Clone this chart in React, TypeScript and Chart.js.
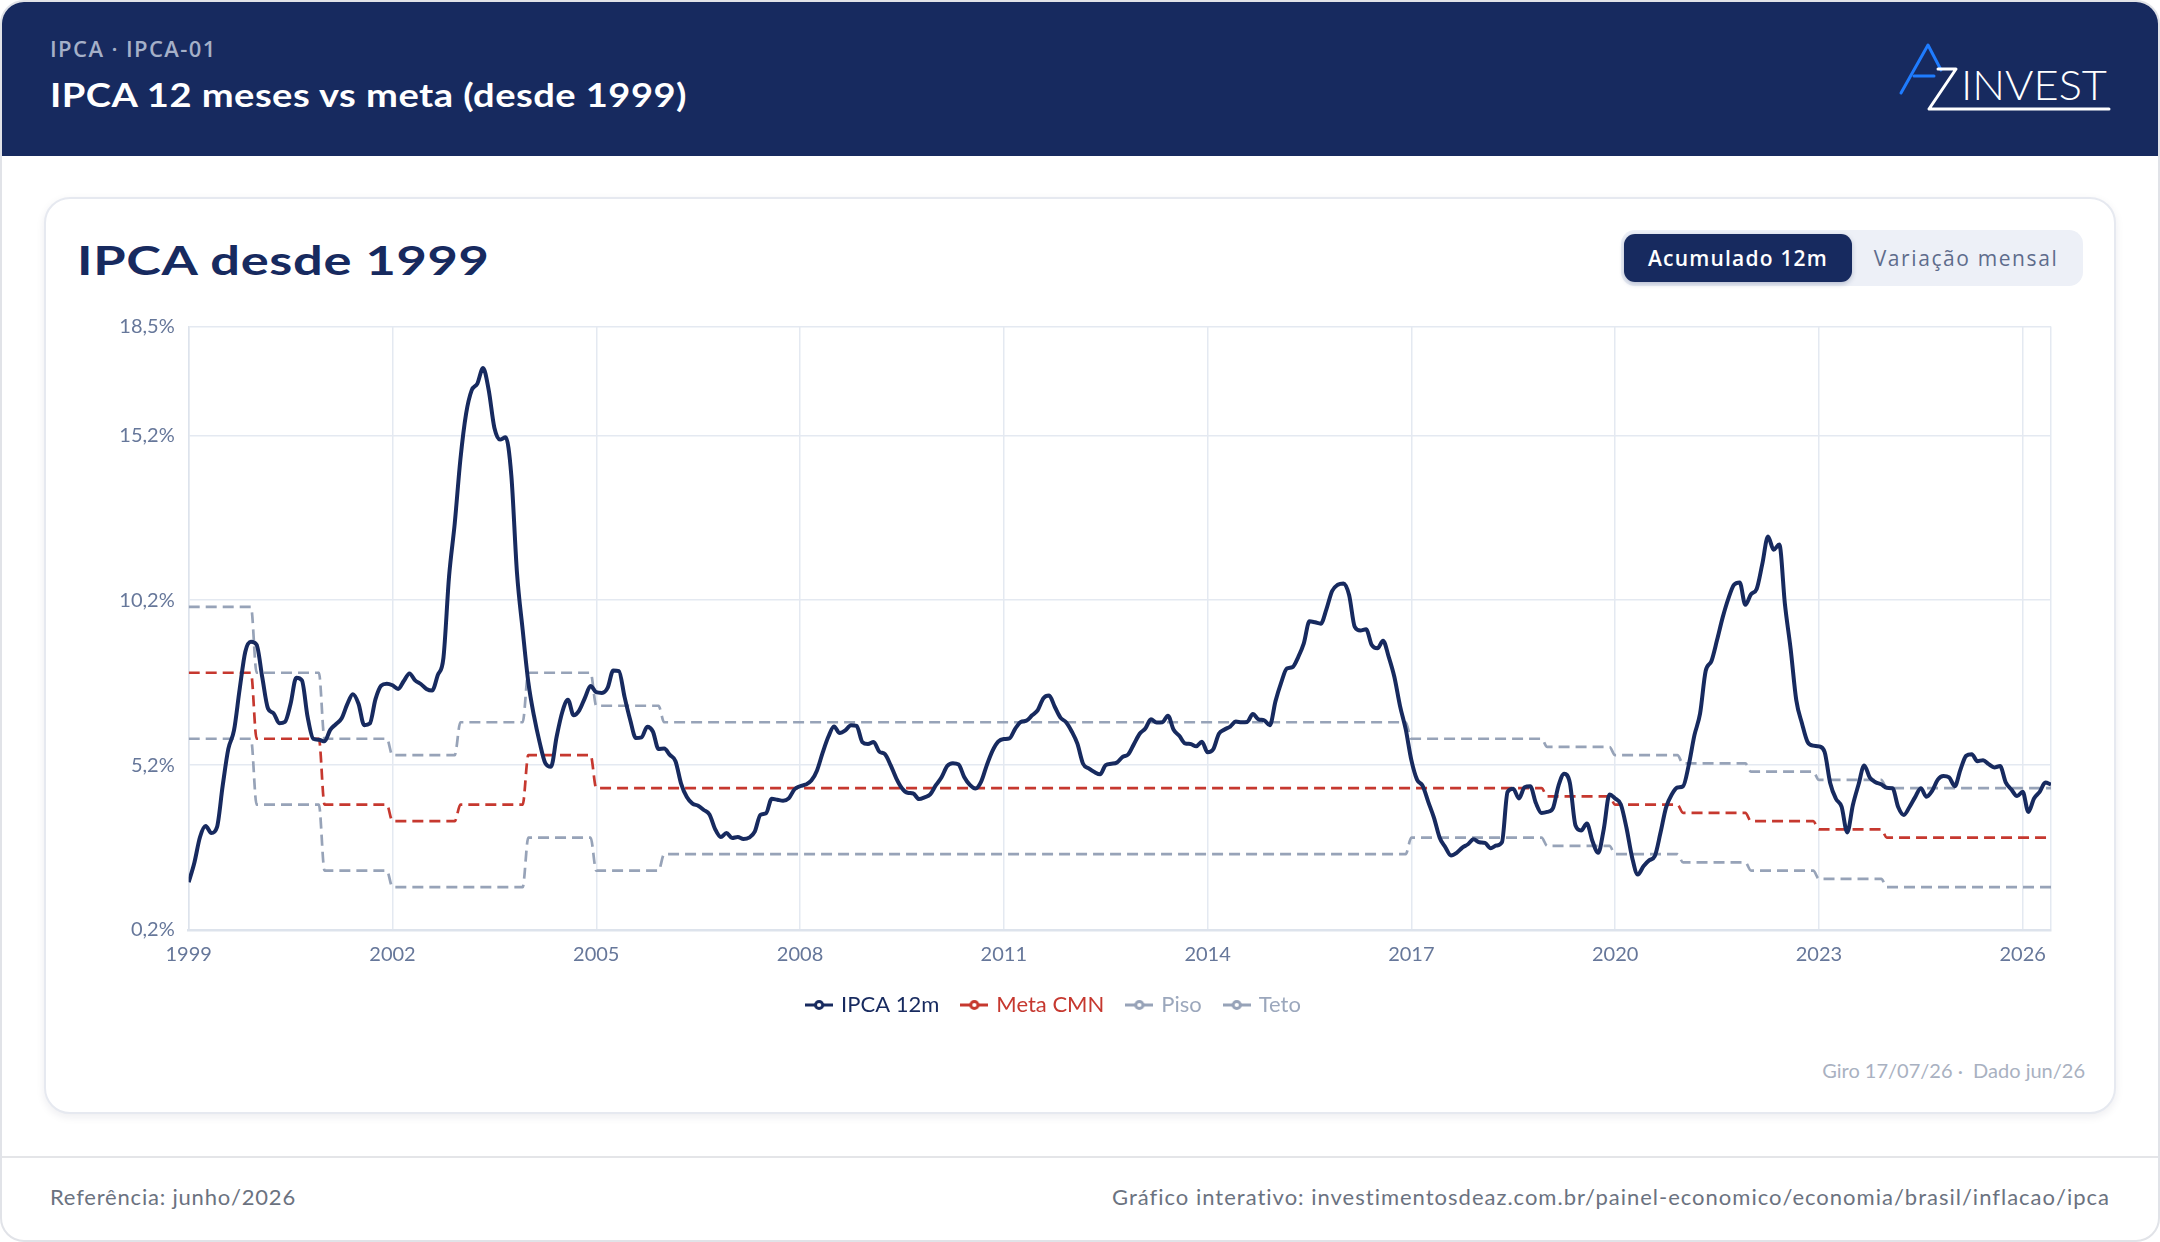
import { useEffect, useRef } from "react";
import { Chart, registerables } from "chart.js";

Chart.register(...registerables);

// Série mensal do IPCA acumulado em 12 meses (%), de jan/1999 a jun/2026
const START_YEAR = 1999;
const IPCA_12M: number[] = [
  // 1999
  1.65, 2.24, 3.02, 3.35, 3.14, 3.32, 4.57, 5.69, 6.25, 7.5, 8.64, 8.94,
  // 2000
  8.85, 7.86, 6.92, 6.77, 6.47, 6.51, 7.06, 7.85, 7.77, 6.67, 6.0, 5.97,
  // 2001
  5.92, 6.27, 6.44, 6.61, 7.04, 7.35, 7.06, 6.41, 6.46, 7.2, 7.61, 7.67,
  // 2002
  7.62, 7.51, 7.75, 7.98, 7.77, 7.66, 7.51, 7.46, 7.93, 8.45, 10.93, 12.53,
  // 2003
  14.47, 15.85, 16.57, 16.77, 17.24, 16.57, 15.43, 15.07, 15.14, 13.98, 11.02, 9.3,
  // 2004
  7.71, 6.69, 5.89, 5.26, 5.15, 6.06, 6.81, 7.18, 6.71, 6.86, 7.24, 7.6,
  // 2005
  7.41, 7.39, 7.54, 8.07, 8.05, 7.27, 6.57, 6.02, 6.04, 6.36, 6.22, 5.69,
  // 2006
  5.7, 5.51, 5.32, 4.63, 4.23, 4.03, 3.97, 3.84, 3.7, 3.26, 3.02, 3.14,
  // 2007
  2.99, 3.02, 2.96, 3.0, 3.18, 3.69, 3.74, 4.18, 4.15, 4.12, 4.19, 4.46,
  // 2008
  4.56, 4.61, 4.73, 5.04, 5.58, 6.06, 6.37, 6.17, 6.25, 6.41, 6.39, 5.9,
  // 2009
  5.84, 5.9, 5.61, 5.53, 5.2, 4.8, 4.5, 4.36, 4.34, 4.17, 4.22, 4.31,
  // 2010
  4.59, 4.83, 5.17, 5.26, 5.22, 4.84, 4.6, 4.49, 4.7, 5.2, 5.63, 5.91,
  // 2011
  5.99, 6.01, 6.3, 6.51, 6.55, 6.71, 6.87, 7.23, 7.31, 6.97, 6.64, 6.5,
  // 2012
  6.22, 5.85, 5.24, 5.1, 4.99, 4.92, 5.2, 5.24, 5.28, 5.45, 5.53, 5.84,
  // 2013
  6.15, 6.31, 6.59, 6.49, 6.5, 6.7, 6.27, 6.09, 5.86, 5.84, 5.77, 5.91,
  // 2014
  5.59, 5.68, 6.15, 6.28, 6.37, 6.52, 6.5, 6.51, 6.75, 6.59, 6.56, 6.41,
  // 2015
  7.14, 7.7, 8.13, 8.17, 8.47, 8.89, 9.56, 9.53, 9.49, 9.93, 10.48, 10.67,
  // 2016
  10.71, 10.36, 9.39, 9.28, 9.32, 8.84, 8.74, 8.97, 8.48, 7.87, 6.99, 6.29,
  // 2017
  5.35, 4.76, 4.57, 4.08, 3.6, 3.0, 2.71, 2.46, 2.54, 2.7, 2.8, 2.95,
  // 2018
  2.86, 2.84, 2.68, 2.76, 2.86, 4.39, 4.48, 4.19, 4.53, 4.56, 4.05, 3.75,
  // 2019
  3.78, 3.89, 4.58, 4.94, 4.66, 3.37, 3.22, 3.43, 2.89, 2.54, 3.27, 4.31,
  // 2020
  4.19, 4.01, 3.3, 2.4, 1.88, 2.13, 2.31, 2.44, 3.14, 3.92, 4.31, 4.52,
  // 2021
  4.56, 5.2, 6.1, 6.76, 8.06, 8.35, 8.99, 9.68, 10.25, 10.67, 10.74, 10.06,
  // 2022
  10.38, 10.54, 11.3, 12.13, 11.73, 11.89, 10.07, 8.73, 7.17, 6.47, 5.9, 5.79,
  // 2023
  5.77, 5.6, 4.65, 4.18, 3.94, 3.16, 3.99, 4.61, 5.19, 4.82, 4.68, 4.62,
  // 2024
  4.51, 4.5, 3.93, 3.69, 3.93, 4.23, 4.5, 4.24, 4.42, 4.76, 4.87, 4.83,
  // 2025
  4.56, 5.06, 5.48, 5.53, 5.32, 5.35, 5.23, 5.13, 5.17, 4.68, 4.46, 4.26,
  // 2026
  4.39, 3.78, 4.19, 4.39, 4.67, 4.61,
];

// Metas do CMN por ano-calendário (1999 a 2026), centro e limites do intervalo de tolerância
const META_ANUAL: number[] = [
  8, 6, 4, 3.5, 4, 5.5, 4.5, 4.5, 4.5, 4.5, 4.5, 4.5, 4.5, 4.5,
  4.5, 4.5, 4.5, 4.5, 4.5, 4.5, 4.25, 4, 3.75, 3.5, 3.25, 3, 3, 3,
];
const PISO_ANUAL: number[] = [
  6, 4, 2, 1.5, 1.5, 3, 2, 2.5, 2.5, 2.5, 2.5, 2.5, 2.5, 2.5,
  2.5, 2.5, 2.5, 2.5, 3, 3, 2.75, 2.5, 2.25, 2, 1.75, 1.5, 1.5, 1.5,
];
const TETO_ANUAL: number[] = [
  10, 8, 6, 5.5, 6.5, 8, 7, 6.5, 6.5, 6.5, 6.5, 6.5, 6.5, 6.5,
  6.5, 6.5, 6.5, 6.5, 6, 6, 5.75, 5.5, 5.25, 5, 4.75, 4.5, 4.5, 4.5,
];

const SERIES_LABELS = ["IPCA 12m", "Meta CMN", "Piso", "Teto"];
const X_TICK_YEARS = [1999, 2002, 2005, 2008, 2011, 2014, 2017, 2020, 2023, 2026];
const Y_TICKS = [0.2, 5.2, 10.2, 15.2, 18.5];

const NAVY = "#172a5f";
const RED = "#c6382f";
const SLATE = "#97a3b8";
const GRID = "#e4e9f1";
const TICK = "#66779a";

const X_MIN = START_YEAR;
const X_MAX = START_YEAR + (IPCA_12M.length - 1) / 12;

const monthX = (i: number) => START_YEAR + i / 12;

function legendIcon(color: string): HTMLCanvasElement {
  const c = document.createElement("canvas");
  c.width = 28;
  c.height = 14;
  const g = c.getContext("2d")!;
  g.strokeStyle = color;
  g.lineWidth = 3;
  g.beginPath();
  g.moveTo(0, 7);
  g.lineTo(28, 7);
  g.stroke();
  g.beginPath();
  g.arc(14, 7, 3.6, 0, Math.PI * 2);
  g.fillStyle = "#ffffff";
  g.fill();
  g.stroke();
  return c;
}

function IpcaChart() {
  const ref = useRef<HTMLCanvasElement>(null);

  useEffect(() => {
    const canvas = ref.current;
    if (!canvas) return;

    const ipcaPoints = IPCA_12M.map((y, i) => ({ x: monthX(i), y }));
    const stepPoints = (byYear: number[]) =>
      IPCA_12M.map((_, i) => ({ x: monthX(i), y: byYear[Math.floor(i / 12)] }));

    const colors = [NAVY, RED, SLATE, SLATE];
    const textColors = [NAVY, RED, "#9ba7bc", "#9ba7bc"];
    const icons = colors.map(legendIcon);

    const dashed = {
      borderWidth: 2.7,
      borderDash: [11, 6],
      pointRadius: 0,
      fill: false,
      cubicInterpolationMode: "monotone" as const,
    };

    const chart = new Chart(canvas, {
      type: "line",
      data: {
        datasets: [
          {
            label: SERIES_LABELS[0],
            data: ipcaPoints,
            borderColor: NAVY,
            backgroundColor: NAVY,
            borderWidth: 4,
            pointRadius: 0,
            fill: false,
            cubicInterpolationMode: "monotone",
          },
          { label: SERIES_LABELS[1], data: stepPoints(META_ANUAL), borderColor: RED, backgroundColor: RED, ...dashed },
          { label: SERIES_LABELS[2], data: stepPoints(PISO_ANUAL), borderColor: SLATE, backgroundColor: SLATE, ...dashed },
          { label: SERIES_LABELS[3], data: stepPoints(TETO_ANUAL), borderColor: SLATE, backgroundColor: SLATE, ...dashed },
        ],
      },
      options: {
        responsive: false,
        animation: false,
        devicePixelRatio: 1,
        layout: { padding: { top: 26.5, right: 10, left: 10, bottom: 1 } },
        scales: {
          x: {
            type: "linear",
            min: X_MIN,
            max: X_MAX,
            afterBuildTicks: (axis: any) => {
              axis.ticks = X_TICK_YEARS.map((v) => ({ value: v })).concat([{ value: X_MAX }]);
            },
            afterFit: (axis: any) => {
              axis.height -= 10;
              axis.paddingRight = 0;
            },
            grid: { color: GRID, lineWidth: 1.5, drawTicks: false },
            border: { color: "#dde3ec", width: 2.5 },
            ticks: {
              autoSkip: false,
              maxRotation: 0,
              padding: 13,
              color: TICK,
              font: { family: "Lato", size: 20 },
              callback: (v: any) => (X_TICK_YEARS.includes(Number(v)) ? String(v) : ""),
            },
          },
          y: {
            min: Y_TICKS[0],
            max: Y_TICKS[Y_TICKS.length - 1],
            afterBuildTicks: (axis: any) => {
              axis.ticks = Y_TICKS.map((v) => ({ value: v }));
            },
            afterFit: (axis: any) => {
              axis.width = 130.7;
            },
            grid: { color: GRID, lineWidth: 1.5, drawTicks: false },
            border: { color: "#dde3ec", width: 1.5 },
            ticks: {
              padding: 14,
              color: TICK,
              font: { family: "Lato", size: 20 },
              callback: (v: any) => Number(v).toFixed(1).replace(".", ",") + "%",
            },
          },
        },
        plugins: {
          tooltip: { enabled: false },
          legend: {
            position: "bottom",
            labels: {
              usePointStyle: true,
              pointStyleWidth: 22,
              padding: 24,
              font: { family: "Lato", size: 22 },
              generateLabels: (c: any) =>
                c.data.datasets.map((ds: any, i: number) => ({
                  text: ds.label,
                  fillStyle: colors[i],
                  strokeStyle: colors[i],
                  lineWidth: 0,
                  pointStyle: icons[i],
                  fontColor: textColors[i],
                  hidden: false,
                  datasetIndex: i,
                })),
            },
          },
        },
      },
    } as any);

    return () => chart.destroy();
  }, []);

  return (
    <canvas
      ref={ref}
      width={2013}
      height={727}
      style={{ position: "absolute", left: 48, top: 300, width: 2013, height: 727 }}
    />
  );
}

function Logo() {
  return (
    <svg
      width={230}
      height={84}
      viewBox="0 0 230 84"
      style={{ position: "absolute", left: 1890, top: 36 }}
    >
      <polyline points="11,57 38,9 51,34" fill="none" stroke="#1f7cff" strokeWidth={3} strokeLinecap="round" strokeLinejoin="round" />
      <line x1={24} y1={40} x2={44} y2={40} stroke="#1f7cff" strokeWidth={3} strokeLinecap="round" />
      <polyline points="48,33 66,33 39,73 219,73" fill="none" stroke="#ffffff" strokeWidth={3} strokeLinecap="round" strokeLinejoin="round" />
      <text x={71} y={64} fill="#ffffff" fontFamily="Lato" fontWeight={300} fontSize={42} textLength={146} lengthAdjust="spacingAndGlyphs">
        INVEST
      </text>
    </svg>
  );
}

export default function App() {
  useEffect(() => {
    document.body.style.margin = "0";
  }, []);

  return (
    <div
      style={{
        position: "relative",
        width: 2160,
        height: 1242,
        overflow: "hidden",
        background: "#ffffff",
        fontFamily: "Lato, sans-serif",
      }}
    >
      {/* moldura da página */}
      <div
        style={{
          position: "absolute",
          left: 0,
          top: 0,
          width: 2160,
          height: 1242,
          boxSizing: "border-box",
          border: "2px solid #e1e3e8",
          borderRadius: 24,
        }}
      />

      {/* cabeçalho */}
      <div
        style={{
          position: "absolute",
          left: 2,
          top: 2,
          width: 2156,
          height: 154,
          background: NAVY,
          borderTopLeftRadius: 22,
          borderTopRightRadius: 22,
        }}
      />
      <div
        style={{
          position: "absolute",
          left: 50,
          top: 36,
          lineHeight: "24px",
          fontFamily: "'Open Sans', sans-serif",
          fontWeight: 600,
          fontSize: 22,
          letterSpacing: 1.4,
          color: "#a5b0c8",
          whiteSpace: "pre",
        }}
      >
        IPCA · IPCA-01
      </div>
      <div
        style={{
          position: "absolute",
          left: 50,
          top: 75,
          lineHeight: "40px",
          fontWeight: 700,
          fontSize: 32,
          letterSpacing: 0.4,
          color: "#ffffff",
          whiteSpace: "pre",
          transform: "scaleX(1.19)",
          transformOrigin: "left center",
        }}
      >
        IPCA 12 meses vs meta (desde 1999)
      </div>
      <Logo />

      {/* cartão do gráfico */}
      <div
        style={{
          position: "absolute",
          left: 44,
          top: 197,
          width: 2072,
          height: 917,
          boxSizing: "border-box",
          border: "2px solid #e6e9f0",
          borderRadius: 26,
          background: "#ffffff",
          boxShadow: "0 3px 8px rgba(20, 30, 60, 0.08)",
        }}
      />
      <div
        style={{
          position: "absolute",
          left: 77,
          top: 236,
          lineHeight: "48px",
          fontWeight: 700,
          fontSize: 40,
          letterSpacing: 0.5,
          color: NAVY,
          whiteSpace: "pre",
          transform: "scaleX(1.31)",
          transformOrigin: "left center",
        }}
      >
        IPCA desde 1999
      </div>

      {/* seletor de visualização */}
      <div
        style={{
          position: "absolute",
          left: 1621,
          top: 230,
          width: 462,
          height: 56,
          borderRadius: 14,
          background: "#edf0f7",
        }}
      />
      <div
        style={{
          position: "absolute",
          left: 1624,
          top: 234,
          width: 228,
          height: 48,
          borderRadius: 11,
          background: NAVY,
          boxShadow: "0 2px 5px rgba(23, 42, 95, 0.25)",
          color: "#ffffff",
          display: "flex",
          alignItems: "center",
          justifyContent: "center",
          fontFamily: "'Open Sans', sans-serif",
          fontWeight: 600,
          fontSize: 21,
          letterSpacing: 1.2,
        }}
      >
        Acumulado 12m
      </div>
      <div
        style={{
          position: "absolute",
          left: 1852,
          top: 234,
          width: 228,
          height: 48,
          color: "#5e6c8c",
          display: "flex",
          alignItems: "center",
          justifyContent: "center",
          fontFamily: "'Open Sans', sans-serif",
          fontWeight: 500,
          fontSize: 21,
          letterSpacing: 1.6,
          whiteSpace: "pre",
        }}
      >
        Variação mensal
      </div>

      <IpcaChart />

      <div
        style={{
          position: "absolute",
          right: 75,
          top: 1058,
          lineHeight: "24px",
          fontSize: 20,
          color: "#a9b1c1",
          whiteSpace: "pre",
        }}
      >
        {"Giro 17/07/26 ·  Dado jun/26"}
      </div>

      {/* rodapé */}
      <div
        style={{
          position: "absolute",
          left: 2,
          top: 1156,
          width: 2156,
          height: 2,
          background: "#e4e5e8",
        }}
      />
      <div
        style={{
          position: "absolute",
          left: 50,
          top: 1183,
          lineHeight: "28px",
          fontSize: 22,
          letterSpacing: 0.8,
          color: "#6b7280",
          whiteSpace: "pre",
        }}
      >
        Referência: junho/2026
      </div>
      <div
        style={{
          position: "absolute",
          right: 50,
          top: 1183,
          lineHeight: "28px",
          fontSize: 22,
          letterSpacing: 1,
          color: "#6b7280",
          whiteSpace: "pre",
        }}
      >
        Gráfico interativo: investimentosdeaz.com.br/painel-economico/economia/brasil/inflacao/ipca
      </div>
    </div>
  );
}
